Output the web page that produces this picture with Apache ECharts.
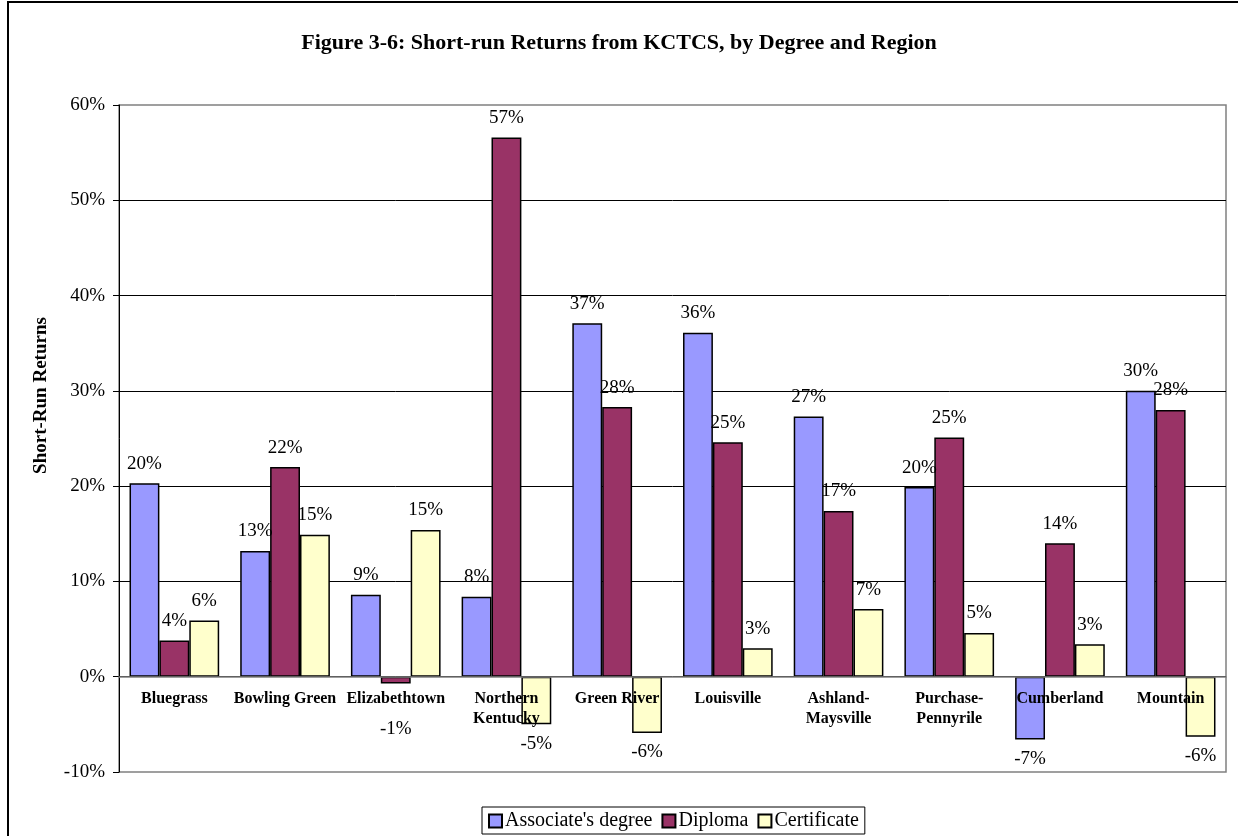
<!DOCTYPE html>
<html>
<head>
<meta charset="utf-8">
<script src="https://cdn.jsdelivr.net/npm/echarts@6/dist/echarts.min.js"></script>
<style>
html,body{margin:0;padding:0;background:#fff;}
#chart{width:1238px;height:836px;}
</style>
</head>
<body>
<div id="chart"></div>
<script>
const titleText = 'Figure 3-6: Short-run Returns from KCTCS, by Degree and Region';
const categories = ['Bluegrass', 'Bowling Green', 'Elizabethtown', 'Northern\nKentucky', 'Green River', 'Louisville', 'Ashland-\nMaysville', 'Purchase-\nPennyrile', 'Cumberland', 'Mountain'];
const seriesNames = ["Associate's degree", 'Diploma', 'Certificate'];
const associate = [20.3, 13.2, 8.6, 8.4, 37.1, 36.1, 27.3, 19.9, -6.6, 30.0];
const diploma = [3.8, 22.0, -0.7, 56.6, 28.3, 24.6, 17.4, 25.1, 14.0, 28.0];
const certificate = [5.9, 14.9, 15.4, -5.0, -5.9, 3.0, 7.1, 4.6, 3.4, -6.3];
const yTicks = {min: -10, max: 60, interval: 10};
const yAxisName = 'Short-Run Returns';

const colors = ['#9999FF', '#993366', '#FFFFCC'];
const serif = '"Liberation Serif", "Times New Roman", serif';

const W = 1238, H = 836;
const grid = {left: 119, right: 12, top: 105, bottom: 64};
const plotH = H - grid.top - grid.bottom;
// distance from bottom of plot to the zero line (through the axis scale)
const zeroOffset = plotH * (0 - yTicks.min) / (yTicks.max - yTicks.min);

function toItems(arr) {
  return arr.map(v => ({
    value: v,
    label: v < 0 ? {position: 'bottom', distance: (v > -2 ? 36 : 10)} : {position: 'top', distance: 10}
  }));
}

const allData = [associate, diploma, certificate];
const series = seriesNames.map((n, i) => ({
  name: n,
  type: 'bar',
  z: 2,
  data: toItems(allData[i]),
  barGap: '0%',
  barCategoryGap: '19%',
  itemStyle: {color: colors[i], borderColor: '#000', borderWidth: 1.5},
  label: {
    show: true,
    fontFamily: serif,
    fontSize: 19,
    color: '#000',
    formatter: p => Math.round(p.value) + '%'
  },
  emphasis: {disabled: true},
  animation: false
}));

const chart = echarts.init(document.getElementById('chart'), null, {renderer: 'canvas'});
chart.setOption({
  backgroundColor: '#fff',
  animation: false,
  title: {
    text: titleText,
    left: 'center',
    top: 27,
    textStyle: {fontFamily: serif, fontSize: 22, fontWeight: 'bold', color: '#000'}
  },
  legend: {
    data: seriesNames,
    left: 482,
    top: 807,
    orient: 'horizontal',
    itemWidth: 13,
    itemHeight: 13,
    itemGap: 9,
    padding: [4, 6, 3, 6],
    borderColor: '#000',
    borderWidth: 1,
    icon: 'rect',
    textStyle: {fontFamily: serif, fontSize: 20, color: '#000', padding: [0, 0, 0, -2]}
  },
  grid: {
    left: grid.left, right: grid.right, top: grid.top, bottom: grid.bottom,
    show: true, borderColor: '#808080', borderWidth: 1.5, backgroundColor: 'transparent'
  },
  xAxis: {
    type: 'category',
    data: categories,
    position: 'bottom',
    offset: -zeroOffset,
    z: 5,
    axisLine: {show: true, onZero: false, lineStyle: {color: '#808080', width: 1.5}},
    axisTick: {show: false},
    axisLabel: {
      interval: 0,
      margin: 12,
      fontFamily: serif,
      fontSize: 16,
      fontWeight: 'bold',
      color: '#000',
      lineHeight: 20
    },
    splitLine: {show: false}
  },
  yAxis: {
    type: 'value',
    min: yTicks.min,
    max: yTicks.max,
    interval: yTicks.interval,
    name: yAxisName,
    nameLocation: 'middle',
    nameGap: 68,
    nameRotate: 90,
    nameTextStyle: {fontFamily: serif, fontSize: 19, fontWeight: 'bold', color: '#000', padding: [0, 0, 0, 86]},
    axisLine: {show: true, lineStyle: {color: '#000', width: 1}},
    axisTick: {show: true, inside: false, length: 6, lineStyle: {color: '#000'}},
    axisLabel: {
      fontFamily: serif,
      fontSize: 19,
      color: '#000',
      margin: 14,
      formatter: '{value}%'
    },
    splitLine: {show: true, showMinLine: false, showMaxLine: false, lineStyle: {color: '#000', width: 1}}
  },
  graphic: [{
    type: 'rect',
    shape: {x: 8, y: 2, width: 1400, height: 1000},
    style: {fill: 'none', stroke: '#000', lineWidth: 2},
    silent: true,
    z: 100
  }],
  series: series
});
</script>
</body>
</html>
